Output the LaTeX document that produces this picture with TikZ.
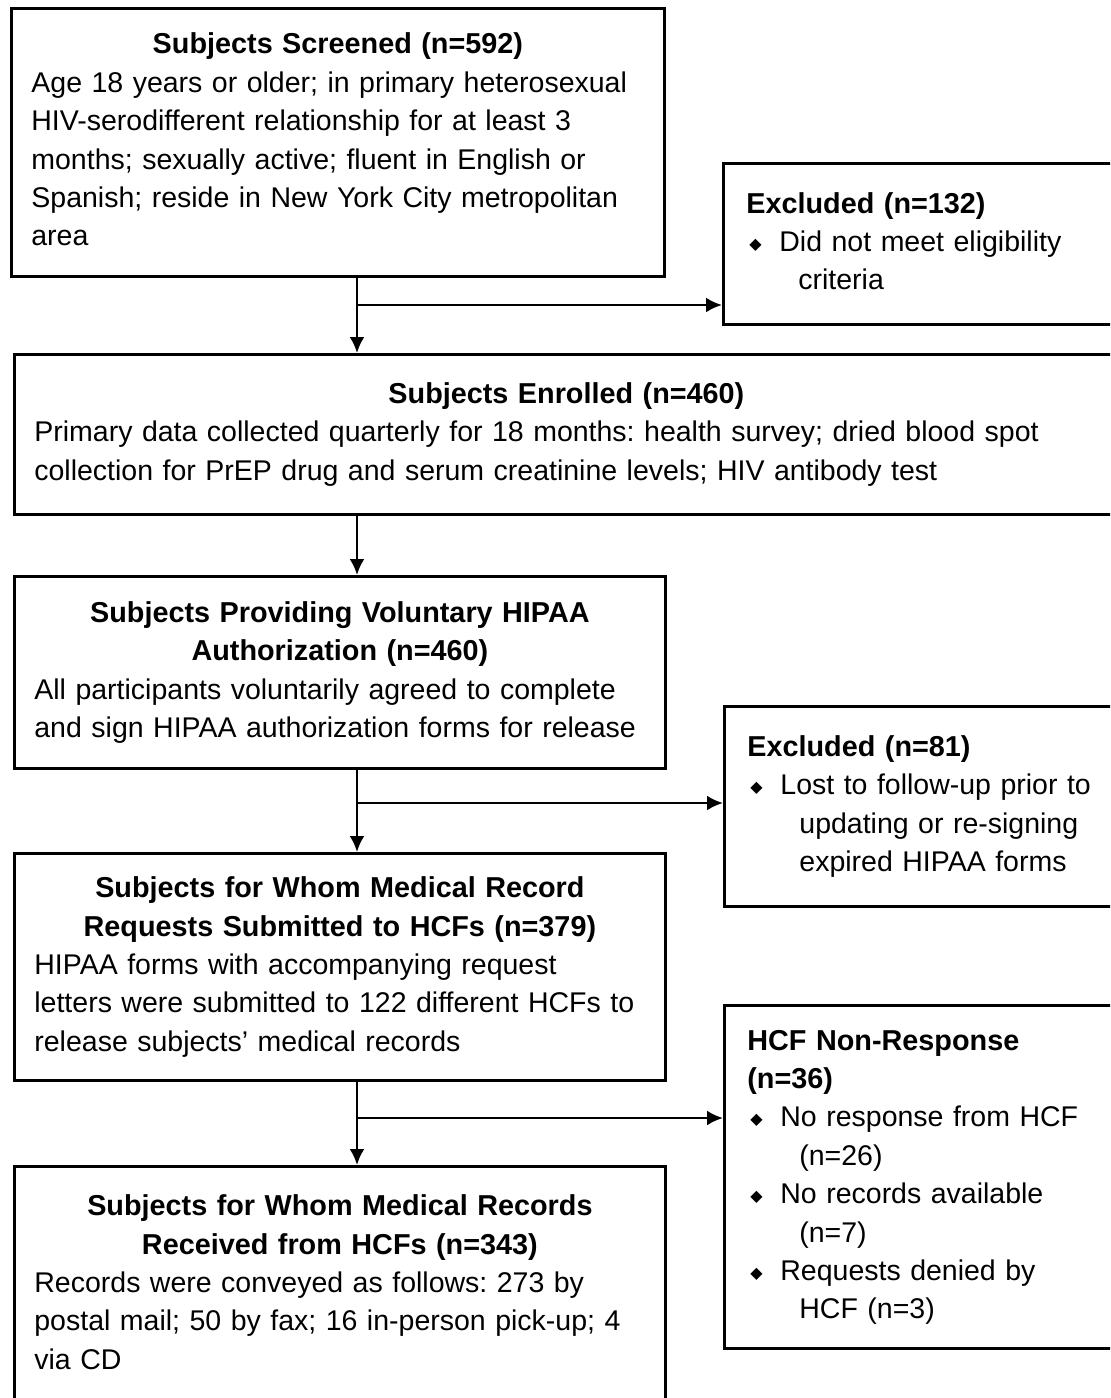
\documentclass[tikz,border=0pt]{standalone}
\usepackage{fontspec}
\setmainfont{Liberation Sans}
\newfontfamily\dejavu{DejaVu Sans}
\usetikzlibrary{arrows.meta,positioning}
\tikzset{stage/.style={rectangle, draw, line width=1.4pt, anchor=north west, inner xsep=10pt, inner ysep=0pt,
 text width=305.5pt, font=\fontsize{14.25}{19.2}\selectfont\frenchspacing}}
\tikzset{exclusion/.style={rectangle, draw, line width=1.4pt, anchor=north west, inner xsep=11.5pt, inner ysep=0pt,
 text width=177pt, font=\fontsize{14.25}{19.2}\selectfont\frenchspacing}}
\tikzset{line/.style={draw, line width=1.3pt, -{Latex[length=8pt,width=7.5pt]}}}
\newcommand{\dia}{\makebox[16.5pt][l]{\hspace{1.5pt}\raisebox{1pt}{\dejavu\fontsize{8}{8}\selectfont ◆}}}
\newcommand{\hd}{\fontsize{14.4}{19.2}\selectfont\bfseries}
% line strut, so that first and last lines sit evenly in the box
\newcommand{\ls}{\rule[-3.9pt]{0pt}{15.3pt}}

\begin{document}
\begin{tikzpicture}[x=0.5pt,y=-0.5pt]
        \useasboundingbox (0,0) rectangle (1110,1398);
        \clip (0,0) rectangle (1110,1398);

        \node[stage, text width=306.5pt, minimum height=134pt] (scrn) at (10,7)
          {{\centering\hd\ls Subjects Screened (n=592)\par}
           Age 18 years or older; in primary heterosexual\\
           HIV-serodifferent relationship for at least 3\\
           months; sexually active; fluent in English or\\
           Spanish; reside in New York City metropolitan\\
           area\ls};
        \node[stage, text width=532pt, minimum height=80pt] (enrl) at (13,353)
          {{\centering\hd\ls Subjects Enrolled (n=460)\par}
           Primary data collected quarterly for 18 months: health survey; dried blood spot\\
           collection for PrEP drug and serum creatinine levels; HIV antibody test\ls};
        \node[stage, minimum height=96pt] (hipa) at (13,575)
          {{\centering\hd\ls Subjects Providing Voluntary HIPAA\\ Authorization (n=460)\par}
           All participants voluntarily agreed to complete\\
           and sign HIPAA authorization forms for release\ls};
        \node[stage, minimum height=113.5pt] (reqs) at (13,852)
          {{\centering\hd\ls Subjects for Whom Medical Record\\ Requests Submitted to HCFs (n=379)\par}
           HIPAA forms with accompanying request\\
           letters were submitted to 122 different HCFs to\\
           release subjects' medical records\ls};
        \node[stage, minimum height=118.5pt] (recv) at (13,1165)
          {{\centering\hd\ls Subjects for Whom Medical Records\\ Received from HCFs (n=343)\par}
           Records were conveyed as follows: 273 by\\
           postal mail; 50 by fax; 16 in-person pick-up; 4\\
           via CD\ls};

        \node[exclusion, minimum height=80.5pt] (excl) at (722,162)
          {{\hd\ls Excluded (n=132)}\\
           \dia Did not meet eligibility\\
           \hspace*{26pt}criteria\ls};
        \node[exclusion, minimum height=100pt] (lost) at (723,705)
          {{\hd\ls Excluded (n=81)}\\
           \dia Lost to follow-up prior to\\
           \hspace*{26pt}updating or re-signing\\
           \hspace*{26pt}expired HIPAA forms\ls};
        \node[exclusion, minimum height=171.5pt] (nonr) at (723,1004)
          {{\hd\ls HCF Non-Response\\ (n=36)}\\
           \dia No response from HCF\\
           \hspace*{26pt}(n=26)\\
           \dia No records available\\
           \hspace*{26pt}(n=7)\\
           \dia Requests denied by\\
           \hspace*{26pt}HCF (n=3)\ls};

        \coordinate (spine) at (357,0);
        \coordinate (jscr) at (357,305);
        \coordinate (jhip) at (357,803);
        \coordinate (jreq) at (357,1118);

        \draw[line width=1.3pt] (scrn.south -| spine) -- (jscr);
        \path[line] (jscr) --          (enrl.north -| spine);
        \path[line] (jscr) --          (excl.west |- jscr);
        \path[line] (enrl.south -| spine) -- (hipa.north -| spine);
        \draw[line width=1.3pt] (hipa.south -| spine) -- (jhip);
        \path[line] (jhip) --          (reqs.north -| spine);
        \path[line] (jhip) --          (lost.west |- jhip);
        \draw[line width=1.3pt] (reqs.south -| spine) -- (jreq);
        \path[line] (jreq) --          (recv.north -| spine);
        \path[line] (jreq) --          (nonr.west |- jreq);
      \end{tikzpicture}
\end{document}
